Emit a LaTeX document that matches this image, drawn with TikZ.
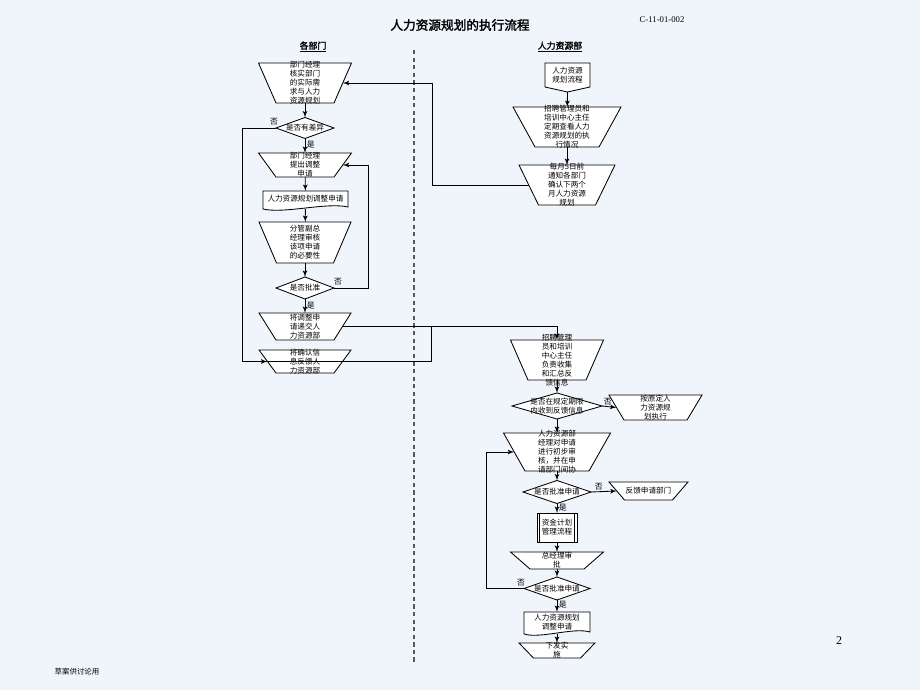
\documentclass[tikz,border=0pt]{standalone}
\usepackage{fontspec}
\setmainfont{Noto Sans CJK SC}[AutoFakeBold=2]
\newfontfamily\latinfont{Liberation Serif}
\usetikzlibrary{arrows,positioning,calc}
\definecolor{bgcol}{RGB}{240,245,252}
\tikzset{
shapeline/.style = {draw=black, fill=white, line width=0.6pt},
anchorbox/.style = {draw=none, rectangle, inner sep=0pt, outer sep=0pt},
txt/.style = {font=\fontsize{5.4}{6.4}\selectfont, align=center, inner sep=0pt},
yn/.style = {font=\fontsize{5.6}{6}\selectfont, inner sep=1pt},
line/.style = {draw, line width=0.6pt},
head/.style = {font=\fontsize{6.3}{7}\selectfont\bfseries, inner sep=0pt},
divider/.style = {draw=black!65, line width=1.1pt, dash pattern=on 3pt off 2.4pt}
}
% name, x, y, top half width, bottom half width, half height, text
\newcommand{\trapz}[7]{%
  \filldraw[shapeline] (#2-#4,#3-#6) -- (#2+#4,#3-#6) -- (#2+#5,#3+#6) -- (#2-#5,#3+#6) -- cycle;
  \node[anchorbox, minimum width={(#4+#5)*0.025cm}, minimum height={2*#6*0.025cm}] (#1) at (#2,#3) {};
  \node[txt] at (#1.center) {#7};
}
% name, x, y, half width, half height, text
\newcommand{\diam}[6]{%
  \filldraw[shapeline] (#2-#4,#3) -- (#2,#3-#5) -- (#2+#4,#3) -- (#2,#3+#5) -- cycle;
  \node[anchorbox, minimum width={2*#4*0.025cm}, minimum height={2*#5*0.025cm}] (#1) at (#2,#3) {};
  \node[txt] at (#1.center) {#6};
}
\newcommand{\docu}[6]{%
  \filldraw[shapeline] (#2-#4,#3+#5) -- (#2-#4,#3-#5) -- (#2+#4,#3-#5) -- (#2+#4,#3+#5-2)
    .. controls (#2+#4*0.5,#3+#5-7) and (#2-#4*0.5,#3+#5+5) .. (#2-#4,#3+#5) -- cycle;
  \node[anchorbox, minimum width={2*#4*0.025cm}, minimum height={2*#5*0.025cm}] (#1) at (#2,#3) {};
  \node[txt] at ($(#1.center)+(0,-1)$) {#6};
}

\begin{document}
\begin{tikzpicture}[x=0.025cm, y=-0.025cm, >=latex']
\fill[bgcol] (0,0) rectangle (920,690);
\useasboundingbox (0,0) rectangle (920,690);

% page texts
\node[font=\fontsize{9}{10}\selectfont\bfseries] (title) at (460,25) {人力资源规划的执行流程};
\node[font=\latinfont\fontsize{6.2}{7}\selectfont] (docno) at (662,20) {C-11-01-002};
\node[font=\latinfont\fontsize{8.5}{9}\selectfont] (pageno) at (839,641) {2};
\node[font=\fontsize{5.3}{6}\selectfont] (draft) at (77,672) {草案供讨论用};
\node[head] (deptA) at (313,47) {\underline{各部门}};
\node[head] (deptB) at (560,47) {\underline{人力资源部}};

\coordinate (divtop) at (414,50);
\coordinate (divbot) at (414,662);
\draw[divider] (divtop) -- (divbot);

% left column
\trapz{check}{305}{83}{46.5}{29}{20}{部门经理\\核实部门\\的实际需\\求与人力\\资源规划}
\diam{diff}{305}{128}{29}{10.5}{是否有差异}
\trapz{apply}{305}{165}{46.5}{29}{12}{部门经理\\提出调整\\申请}
\docu{form}{305.5}{200}{42.5}{9}{人力资源规划调整申请}
\trapz{vpcheck}{305}{242.5}{46}{28.5}{20.5}{分管副总\\经理审核\\该项申请\\的必要性}
\diam{okA}{305}{288}{29}{11}{是否批准}
\trapz{submit}{305}{326.5}{46}{29}{13.5}{将调整申\\请递交人\\力资源部}
\trapz{confirm}{305}{361.5}{46}{29}{11.5}{将确认信\\息反馈人\\力资源部}

% right column
\filldraw[shapeline] (545,63) -- (590,63) -- (590,87) -- (567.5,92) -- (545,87) -- cycle;
\node[anchorbox, minimum width=45*0.025cm, minimum height=29*0.025cm] (plan) at (567.5,77.5) {};
\node[txt] at ($(plan.center)+(0,-2)$) {人力资源\\规划流程};
\trapz{review}{567}{127}{54}{32}{20}{招聘管理员和\\培训中心主任\\定期查看人力\\资源规划的执\\行情况}
\trapz{notify}{567}{185}{48}{28.5}{20}{每月5日前\\通知各部门\\确认下两个\\月人力资源\\规划}
\trapz{collect}{557}{360}{46.5}{29}{20}{招聘管理\\员和培训\\中心主任\\负责收集\\和汇总反\\馈信息}
\diam{intime}{557}{406}{45}{13}{是否在规定期限\\内收到反馈信息}
\trapz{keep}{655.5}{407.5}{46.5}{31.5}{12.5}{按原定人\\力资源规\\划执行}
\trapz{hrcheck}{557}{452}{53.5}{32}{19}{人力资源部\\经理对申请\\进行初步审\\核，并在申\\请部门间协}
\diam{okB}{557}{492}{34}{11.5}{是否批准申请}
\trapz{reply}{648.5}{491}{39.5}{24}{9}{反馈申请部门}
\filldraw[shapeline] (537,513) rectangle (577,542);
\draw[line] (539.5,513) -- (539.5,542);
\draw[line] (574.5,513) -- (574.5,542);
\node[anchorbox, minimum width=40*0.025cm, minimum height=29*0.025cm] (fund) at (557,527.5) {};
\node[txt] at (fund.center) {资金计划\\管理流程};
\trapz{ceo}{557}{560.5}{46.5}{27}{8.5}{总经理审\\批}
\diam{okC}{557}{588.5}{33}{11.5}{是否批准申请}
\docu{adjust}{557}{623}{33}{11}{人力资源规划\\调整申请}
\trapz{issue}{557}{650.5}{38}{23.5}{7.5}{下发实\\施}

% connectors, left
\coordinate (backA) at (242,128);
\coordinate (backB) at (368,288);
\coordinate (join) at (431,326.5);
\draw[line,->] (check) -- (diff);
\draw[line,->] (diff) -- node[yn, right, pos=0.45] (yesA) {是} (apply);
\draw[line,->] (diff.west) -- (backA) |- (confirm.west);
\node[yn] (noA) at (274,122) {否};
\draw[line,->] (apply) -- (form);
\draw[line,->] (form) -- (vpcheck);
\draw[line,->] (vpcheck) -- (okA);
\draw[line,->] (okA.east) -- (backB) |- (apply.east);
\node[yn] (noB) at (338,282) {否};
\draw[line,->] (okA) -- node[yn, right, pos=0.45] (yesB) {是} (submit);
\draw[line,->] (submit.east) -| (collect.north);
\draw[line] (confirm.west) -| (join);

% connectors, right
\coordinate (backC) at (432,185);
\coordinate (backD) at (486,588.5);
\draw[line,->] (plan.south) -- (review);
\draw[line,->] (review) -- (notify);
\draw[line,->] (notify.west) -- (backC) |- (check.east);
\draw[line,->] (collect) -- (intime);
\draw[line,->] (intime.east) -- node[yn, above, pos=0.4] (noC) {否} (keep.west);
\draw[line,->] (intime) -- (hrcheck);
\draw[line,->] (hrcheck) -- (okB);
\draw[line,->] (okB.east) -- node[yn, above, pos=0.3] (noD) {否} (reply.west);
\draw[line,->] (okB) -- node[yn, right, pos=0.4] (yesC) {是} (fund);
\draw[line,->] (fund) -- (ceo);
\draw[line,->] (ceo) -- (okC);
\draw[line,->] (okC.west) -- (backD) |- (hrcheck.west);
\node[yn] (noE) at (521,583) {否};
\draw[line,->] (okC) -- node[yn, right, pos=0.4] (yesD) {是} (adjust);
\draw[line,->] (adjust) -- (issue);
\end{tikzpicture}
\end{document}
